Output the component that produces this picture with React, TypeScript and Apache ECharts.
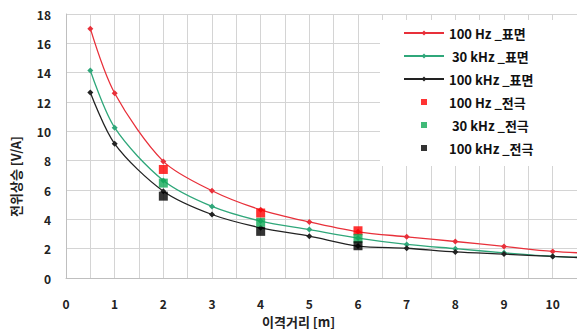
import React, { useEffect, useRef } from "react";
import * as echarts from "echarts";

const xCurve = [0.5, 1, 2, 3, 4, 5, 6, 7, 8, 9, 10, 11];
const hz100Surface = [17.0, 12.6, 7.95, 5.95, 4.65, 3.82, 3.15, 2.81, 2.49, 2.15, 1.81, 1.66];
const khz30Surface = [14.15, 10.25, 6.65, 4.88, 3.88, 3.3, 2.72, 2.29, 2.0, 1.72, 1.48, 1.37];
const khz100Surface = [12.65, 9.15, 5.92, 4.33, 3.42, 2.85, 2.18, 2.03, 1.78, 1.63, 1.47, 1.33];

const xElectrode = [2, 4, 6];
const hz100Electrode = [7.4, 4.43, 3.22];
const khz30Electrode = [6.47, 3.8, 2.7];
const khz100Electrode = [5.58, 3.18, 2.2];

const yTicks = { min: 0, max: 18, interval: 2 };
const xTicks = { min: 0, max: 10.5, interval: 1 };

const names = [
  "100 Hz _표면",
  " 30 kHz _표면",
  "100 kHz _표면",
  "100 Hz _전극",
  " 30 kHz _전극",
  "100 kHz _전극",
];

const FONT = "'Noto Sans CJK KR', 'Noto Sans', sans-serif";

export default function App() {
  const ref = useRef<HTMLDivElement>(null);
  useEffect(() => {
    if (!ref.current) return;
    const chart = echarts.init(ref.current, undefined, { renderer: "svg" });
    const pair = (xs: number[], ys: number[]) => xs.map((x, i) => [x, ys[i]]);
    const lineSeries = (name: string, ys: number[], color: string) => ({
      name,
      type: "line",
      data: pair(xCurve, ys),
      smooth: 0.3,
      symbol: "diamond",
      symbolSize: 6,
      clip: true,
      lineStyle: { color, width: 1.3 },
      itemStyle: { color },
      z: 3,
    });
    const scatterSeries = (name: string, ys: number[], color: string) => ({
      name,
      type: "scatter",
      data: pair(xElectrode, ys),
      symbol: "rect",
      symbolSize: 9,
      itemStyle: { color },
      z: 4,
    });
    chart.setOption({
      animation: false,
      textStyle: { fontFamily: FONT },
      grid: { left: 66, right: 0, top: 14, bottom: 54 },
      xAxis: {
        type: "value",
        min: xTicks.min,
        max: xTicks.max,
        interval: xTicks.interval,
        axisLine: { show: true, lineStyle: { color: "#bfbfbf" } },
        axisTick: { show: false },
        splitLine: { show: true, lineStyle: { color: "#d4d4d4" } },
        minorTick: { show: false, splitNumber: 2 },
        minorSplitLine: { show: true, lineStyle: { color: "#d4d4d4" } },
        axisLabel: {
          margin: 19,
          color: "#222",
          fontWeight: "bold",
          fontSize: 12,
          fontFamily: FONT,
          showMaxLabel: false,
          formatter: (v: number) => (Number.isInteger(v) ? String(v) : ""),
        },
      },
      yAxis: {
        type: "value",
        min: yTicks.min,
        max: yTicks.max,
        interval: yTicks.interval,
        axisLine: { show: true, lineStyle: { color: "#bfbfbf" } },
        axisTick: { show: false },
        splitLine: { show: true, lineStyle: { color: "#d4d4d4" } },
        axisLabel: {
          margin: 15,
          color: "#222",
          fontWeight: "bold",
          fontSize: 12,
          fontFamily: FONT,
        },
      },
      legend: {
        orient: "vertical",
        left: 380,
        top: 20,
        padding: [5, 60, 10, 23],
        backgroundColor: "#ffffff",
        itemWidth: 40,
        itemHeight: 6,
        itemGap: 7,
        textStyle: {
          fontFamily: FONT,
          fontSize: 13,
          fontWeight: "bold",
          color: "#111",
          lineHeight: 16,
        },
        data: [
          { name: names[0] },
          { name: names[1] },
          { name: names[2] },
          { name: names[3], icon: "path://M0 0H10V10H0Z" },
          { name: names[4], icon: "path://M0 0H10V10H0Z" },
          { name: names[5], icon: "path://M0 0H10V10H0Z" },
        ],
        symbolKeepAspect: true,
        z: 10,
      },
      graphic: [
        {
          type: "text",
          left: 262,
          top: 315,
          style: {
            text: "이격거리 [m]",
            font: `bold 13px ${FONT}`,
            fill: "#222",
          },
        },
        {
          type: "text",
          x: 15,
          y: 217,
          rotation: Math.PI / 2,
          style: {
            text: "전위상승 [V/A]",
            font: `bold 13px ${FONT}`,
            fill: "#222",
            align: "left",
            verticalAlign: "middle",
          },
        },
      ],
      series: [
        lineSeries(names[0], hz100Surface, "#e8303a"),
        lineSeries(names[1], khz30Surface, "#2fa77a"),
        lineSeries(names[2], khz100Surface, "#222222"),
        scatterSeries(names[3], hz100Electrode, "#ff0000"),
        scatterSeries(names[4], khz30Electrode, "#10a956"),
        scatterSeries(names[5], khz100Electrode, "#000000"),
      ],
    });
    return () => chart.dispose();
  }, []);
  return (
    <div
      ref={ref}
      style={{ position: "absolute", left: 0, top: 0, width: 577, height: 332 }}
    />
  );
}
